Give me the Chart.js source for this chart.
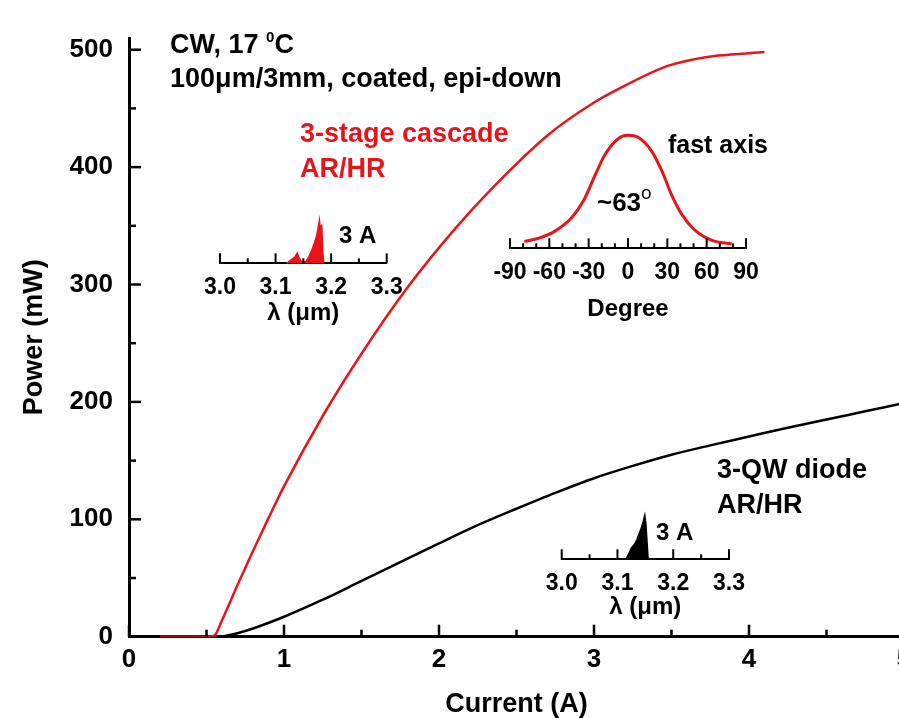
<!DOCTYPE html>
<html>
<head>
<meta charset="utf-8">
<script src="https://cdn.jsdelivr.net/npm/chart.js@4.4.1/dist/chart.umd.min.js"></script>
<style>
html, body { margin: 0; padding: 0; background: #fff; overflow: hidden; }
#wrap { position: relative; width: 930px; height: 718px; }
#wrap canvas { position: absolute; }
</style>
</head>
<body>
<div id="wrap">
  <canvas id="main" width="930" height="718" style="left:0;top:0"></canvas>
  <canvas id="fast"></canvas>
  <canvas id="specRed"></canvas>
  <canvas id="specBlack"></canvas>
</div>
<script>
const FONT = '"Liberation Sans", Arial, sans-serif';
const RED = '#e8141c';

// L-I curves (CW, 17 C)
const cascadeCurrent = [0.2, 0.35, 0.5, 0.55, 0.6, 0.7, 0.8, 0.9, 1.0, 1.25, 1.5, 1.8, 2.1, 2.35, 2.7, 3.0, 3.15, 3.47, 3.65, 3.8, 4.1];
const cascadePower = [0, 0, 0, 1, 14, 44, 73, 101, 128, 188, 241, 298, 347, 383, 427, 455, 466, 486, 492, 495, 498];
const diodeCurrent = [0.6, 0.7, 0.8, 1.0, 1.25, 1.5, 1.75, 2.0, 2.25, 2.5, 2.75, 3.0, 3.25, 3.5, 3.75, 4.0, 4.25, 4.5, 4.75, 5.0];
const diodePower = [0, 3, 7, 17, 31.5, 47.5, 63.5, 79.5, 95, 109, 122.5, 135, 145.5, 155, 163, 170.5, 178, 185, 192, 199];

// emission spectra at 3 A (normalised)
const cascadeWl = [3.12, 3.125, 3.13, 3.135, 3.139, 3.142, 3.146, 3.15, 3.155, 3.16, 3.165, 3.17, 3.174, 3.177, 3.179, 3.181, 3.183, 3.185, 3.187];
const cascadeSpec = [0, 0.05, 0.1, 0.15, 0.24, 0.14, 0.05, 0.02, 0.05, 0.15, 0.3, 0.48, 0.65, 0.85, 1.0, 0.7, 0.9, 0.25, 0];
const diodeWl = [3.115, 3.12, 3.125, 3.13, 3.135, 3.14, 3.143, 3.146, 3.149, 3.151, 3.153, 3.155];
const diodeSpec = [0, 0.12, 0.26, 0.33, 0.45, 0.62, 0.72, 0.85, 1.0, 0.8, 0.4, 0];

// fast axis far field
const farAngle = [-79, -68, -56, -43, -34, -25, -17.5, -7.5, 0, 8, 18, 26, 33, 41, 51, 64, 79];
const farInt = [0.06, 0.09, 0.15, 0.27, 0.42, 0.65, 0.83, 0.97, 1.0, 0.98, 0.86, 0.68, 0.48, 0.30, 0.16, 0.07, 0.04];

// tick labels
const currentTicks = [0, 1, 2, 3, 4, 5];
const powerTicks = [0, 100, 200, 300, 400, 500];
const wlTicks = [3.0, 3.1, 3.2, 3.3];
const angleTicks = [-90, -60, -30, 0, 30, 60, 90];

// text placed in data units of the main chart
const notes = [
  {x: 0.265, y: 497, size: 27, color: '#000', parts: [['CW, 17 '], ['0', 'sup'], ['C']]},
  {x: 0.265, y: 468, size: 27, color: '#000', parts: [['100μm/3mm, coated, epi-down']]},
  {x: 1.103, y: 421, size: 27, color: RED, parts: [['3-stage cascade']]},
  {x: 1.103, y: 391.5, size: 27, color: RED, parts: [['AR/HR']]},
  {x: 3.477, y: 412, size: 25, color: '#000', parts: [['fast axis']]},
  {x: 3.019, y: 363, size: 26, color: '#000', parts: [['~63'], ['o', 'deg']]},
  {x: 1.355, y: 335, size: 24, color: '#000', parts: [['3 A']]},
  {x: 3.794, y: 135, size: 27, color: '#000', parts: [['3-QW diode']]},
  {x: 3.794, y: 105.4, size: 27, color: '#000', parts: [['AR/HR']]},
  {x: 3.4, y: 82.4, size: 24, color: '#000', parts: [['3 A']]}
];

const pts = (xs, ys) => xs.map((x, i) => ({x: x, y: ys[i]}));

// ticks pointing into the plot, major at scale ticks, minor every step
const inTicks = {
  id: 'inTicks',
  afterDraw(chart, args, opts) {
    const ctx = chart.ctx;
    ctx.save();
    ctx.strokeStyle = '#000';
    ctx.lineWidth = opts.width || 2;
    ['x', 'y'].forEach(key => {
      const o = opts[key], s = chart.scales[key];
      if (!o || !s) return;
      const majors = s.ticks.map(t => t.value);
      const n = Math.round((s.max - s.min) / o.step + 1e-6);
      for (let i = 0; i <= n; i++) {
        const v = s.min + i * o.step;
        if (v > s.max + 1e-9) break;
        const len = majors.some(m => Math.abs(m - v) < 1e-6) ? o.major : o.minor;
        const p = s.getPixelForValue(v);
        ctx.beginPath();
        if (s.isHorizontal()) { ctx.moveTo(p, s.top); ctx.lineTo(p, s.top - len); }
        else { ctx.moveTo(s.right, p); ctx.lineTo(s.right + len, p); }
        ctx.stroke();
      }
    });
    ctx.restore();
  }
};

const notesPlugin = {
  id: 'notes',
  afterDraw(chart) {
    const ctx = chart.ctx, sx = chart.scales.x, sy = chart.scales.y;
    ctx.save();
    ctx.textBaseline = 'alphabetic';
    ctx.textAlign = 'left';
    notes.forEach(n => {
      let px = sx.getPixelForValue(n.x);
      const py = sy.getPixelForValue(n.y);
      ctx.fillStyle = n.color;
      n.parts.forEach(([t, kind]) => {
        let size = n.size, weight = 'bold', dy = 0;
        if (kind === 'sup') { size = 15; dy = -11; }
        if (kind === 'deg') { size = 19; weight = 'normal'; dy = -12; }
        ctx.font = weight + ' ' + size + 'px ' + FONT;
        ctx.fillText(t, px, py + dy);
        px += ctx.measureText(t).width;
      });
    });
    ctx.restore();
  }
};

const plotTop = 38, plotBottom = 636.7, plotLeft = 129, canvasH = 718;

new Chart(document.getElementById('main'), {
  type: 'line',
  data: {
    datasets: [
      {label: '3-stage cascade', data: pts(cascadeCurrent, cascadePower), borderColor: RED, borderWidth: 2.5, pointRadius: 0, cubicInterpolationMode: 'monotone'},
      {label: '3-QW diode', data: pts(diodeCurrent, diodePower), borderColor: '#000', borderWidth: 2.5, pointRadius: 0, cubicInterpolationMode: 'monotone'}
    ]
  },
  options: {
    responsive: false,
    animation: false,
    layout: {padding: {left: 0, right: 26, top: plotTop, bottom: 0}},
    plugins: {
      legend: {display: false},
      tooltip: {enabled: false},
      inTicks: {width: 2.5, x: {step: 0.5, major: 12, minor: 7}, y: {step: 50, major: 12, minor: 7}}
    },
    scales: {
      x: {
        type: 'linear', min: 0, max: 5,
        afterBuildTicks: s => { s.ticks = currentTicks.map(v => ({value: v})); },
        afterFit: s => { s.height = canvasH - plotBottom; },
        grid: {display: false, drawTicks: false},
        border: {display: true, color: '#000', width: 3},
        ticks: {color: '#000', padding: 10, autoSkip: false, maxRotation: 0, callback: v => String(v),
          font: {family: FONT, size: 26, weight: 'bold', lineHeight: 1}},
        title: {display: true, text: 'Current (A)', color: '#000', padding: {top: 0, bottom: 0},
          font: {family: FONT, size: 27, weight: 'bold', lineHeight: 1}}
      },
      y: {
        min: 0, max: 510,
        afterBuildTicks: s => { s.ticks = powerTicks.map(v => ({value: v})); },
        afterFit: s => { s.width = plotLeft; },
        grid: {display: false, drawTicks: false},
        border: {display: true, color: '#000', width: 3},
        ticks: {color: '#000', padding: 16, callback: v => String(v),
          font: {family: FONT, size: 26, weight: 'bold', lineHeight: 1}},
        title: {display: true, text: 'Power (mW)', color: '#000', padding: {top: 21, bottom: 0},
          font: {family: FONT, size: 27, weight: 'bold', lineHeight: 1}}
      }
    }
  },
  plugins: [inTicks, notesPlugin]
});

// small inset chart: box = plot area edges in page pixels
function inset(id, box, datasets, ax) {
  const cv = document.getElementById(id);
  const cl = Math.floor(box.left) - 40, cr = Math.ceil(box.right) + 40;
  const ct = Math.floor(box.axis - box.h - 12), cb = Math.ceil(box.title + 16);
  cv.width = cr - cl;
  cv.height = cb - ct;
  cv.style.left = cl + 'px';
  cv.style.top = ct + 'px';
  return new Chart(cv, {
    type: 'line',
    data: {datasets: datasets},
    options: {
      responsive: false,
      animation: false,
      layout: {padding: {left: box.left - cl, right: cr - box.right, top: box.axis - box.h - ct, bottom: 0}},
      plugins: {
        legend: {display: false},
        tooltip: {enabled: false},
        inTicks: {width: 2, x: {step: ax.step, major: 10, minor: 5}}
      },
      scales: {
        x: {
          type: 'linear', min: ax.min, max: ax.max,
          afterBuildTicks: s => { s.ticks = ax.ticks.map(v => ({value: v})); },
          afterFit: s => { s.height = cb - box.axis; },
          grid: {display: false, drawTicks: false},
          border: {display: true, color: '#000', width: 2},
          ticks: {color: '#000', padding: 13, autoSkip: false, maxRotation: 0, callback: ax.fmt,
            font: {family: FONT, size: 23, weight: 'bold', lineHeight: 1}},
          title: {display: true, text: ax.title, color: '#000', padding: {top: 0, bottom: cb - box.title - 12},
            font: {family: FONT, size: 24, weight: 'bold', lineHeight: 1}}
        },
        y: {display: false, min: 0, max: 1}
      }
    },
    plugins: [inTicks]
  });
}

inset('fast', {left: 510, right: 746, axis: 248.3, h: 113, title: 309.5}, [
  {data: pts(farAngle, farInt), borderColor: RED, borderWidth: 3, pointRadius: 0, cubicInterpolationMode: 'monotone', clip: false}
], {min: -90, max: 90, step: 10, ticks: angleTicks, fmt: v => String(v), title: 'Degree'});

inset('specRed', {left: 220, right: 386.7, axis: 263.3, h: 43, title: 313.5}, [
  {data: pts(cascadeWl, cascadeSpec), borderColor: RED, backgroundColor: RED, fill: 'origin', borderWidth: 1.5, pointRadius: 0, clip: false}
], {min: 3.0, max: 3.3, step: 0.05, ticks: wlTicks, fmt: v => v.toFixed(1), title: 'λ (μm)'});

inset('specBlack', {left: 561.7, right: 729, axis: 559.3, h: 44, title: 607}, [
  {data: pts(diodeWl, diodeSpec), borderColor: '#000', backgroundColor: '#000', fill: 'origin', borderWidth: 1.5, pointRadius: 0, clip: false}
], {min: 3.0, max: 3.3, step: 0.05, ticks: wlTicks, fmt: v => v.toFixed(1), title: 'λ (μm)'});
</script>
</body>
</html>
